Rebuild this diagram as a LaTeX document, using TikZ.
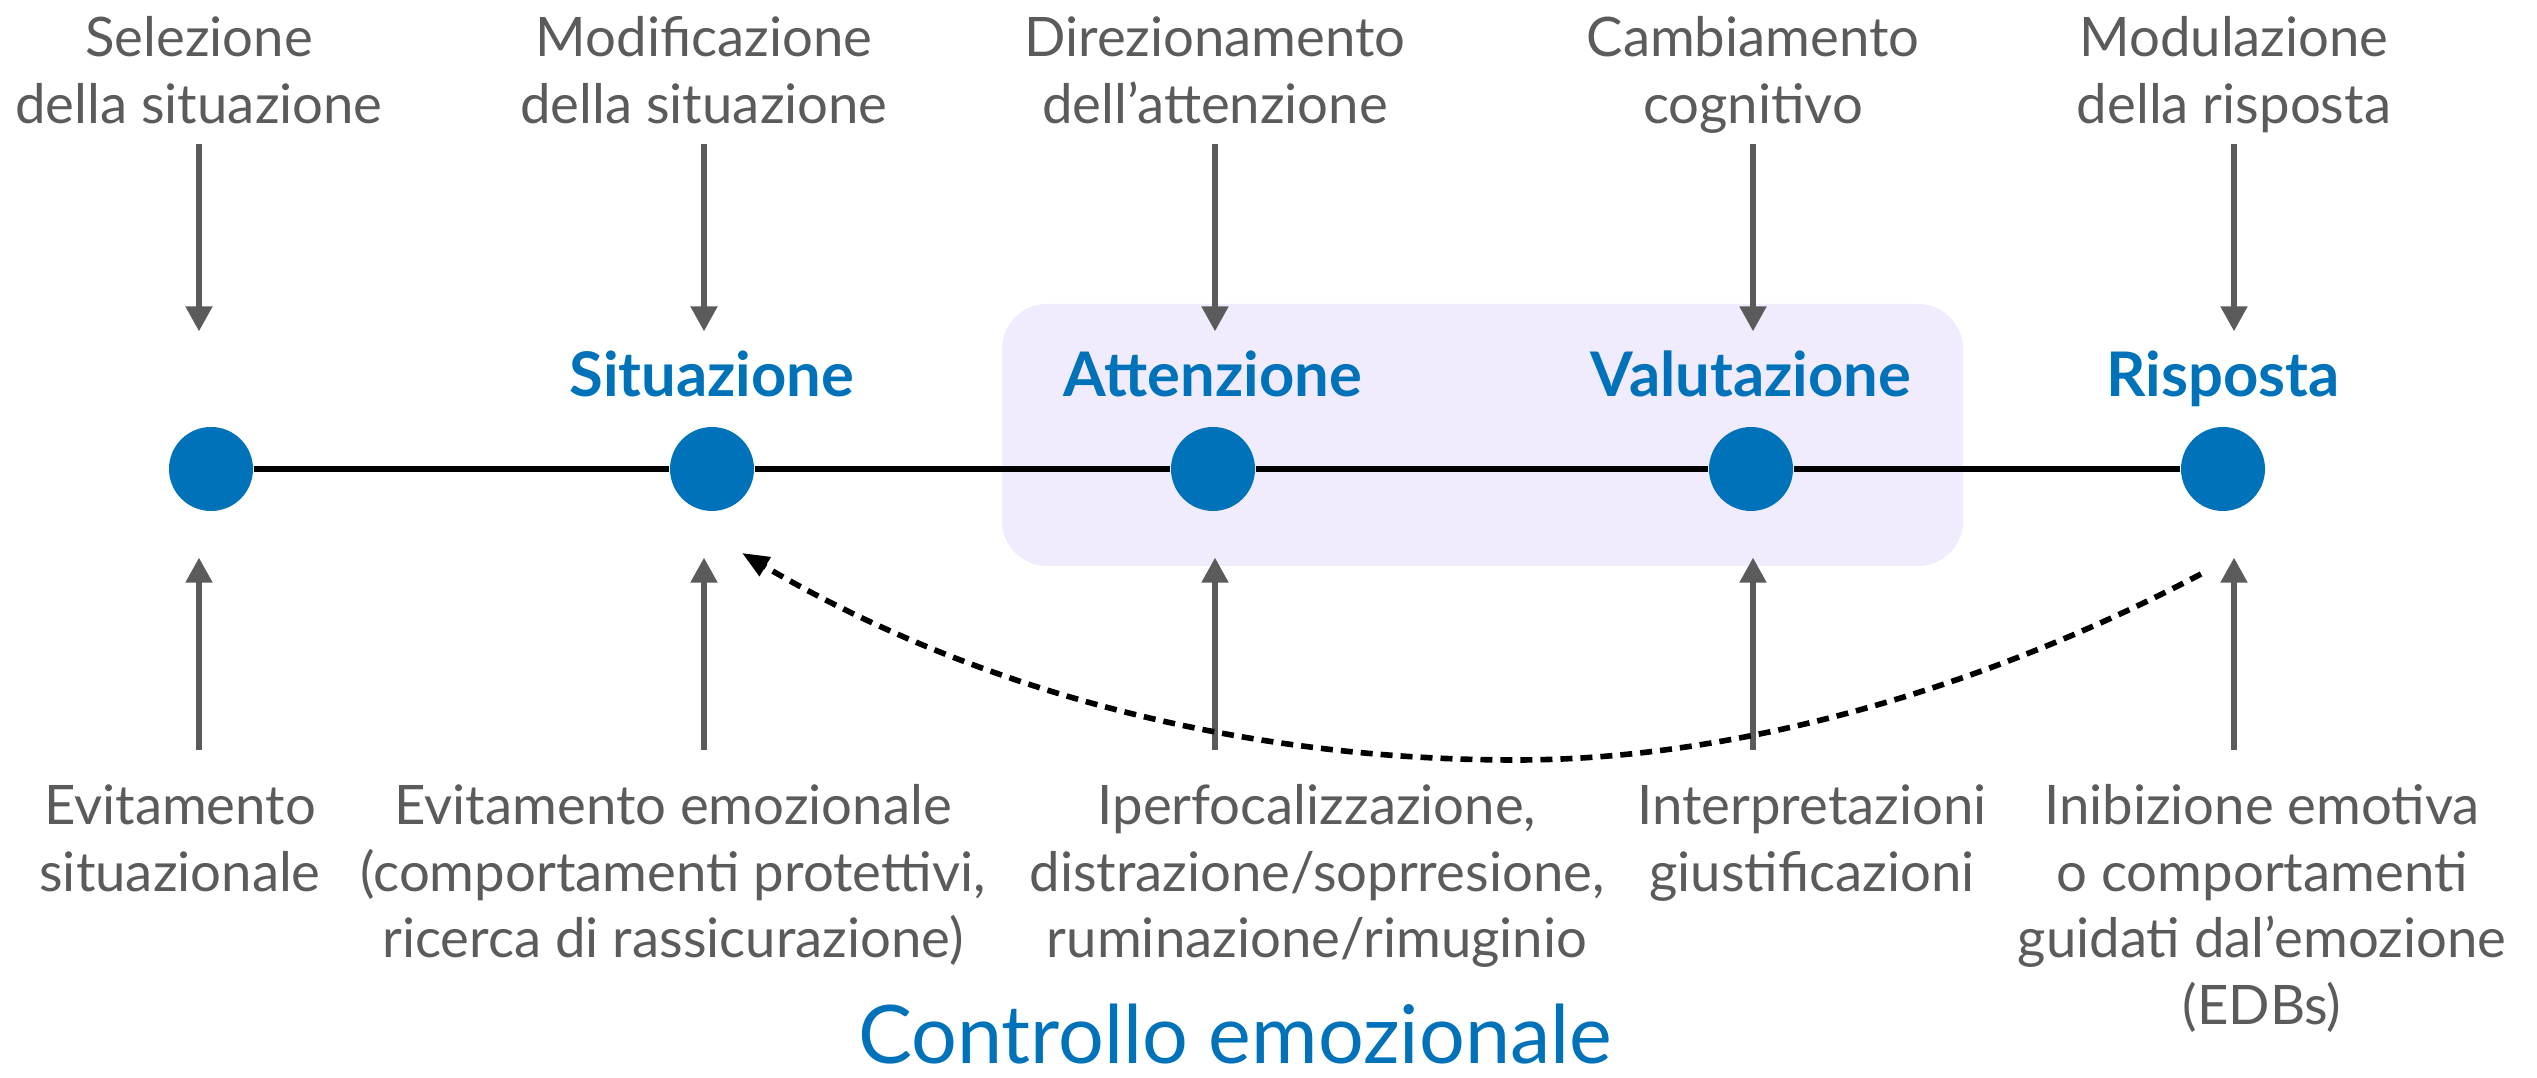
\documentclass[tikz,border=0pt]{standalone}
\usepackage{fontspec}
\setmainfont{Lato}
\usetikzlibrary{arrows.meta,positioning}
\definecolor{blue}{rgb}{0, 0.447, 0.729}
\definecolor{grey}{rgb}{0.357, 0.357, 0.357}
\definecolor{lavender}{rgb}{0.941, 0.925, 0.992}

\tikzset{
    toplabel/.style={anchor=south,align=center,inner sep=0,text=grey,font=\fontsize{15.5}{19}\selectfont},
    botlabel/.style={anchor=north,align=center,inner sep=0,text=grey,font=\fontsize{15.5}{19}\selectfont},
    stage/.style={anchor=base,text=blue,inner sep=0,font=\bfseries\fontsize{17.5}{20}\selectfont},
    dot/.style={circle,draw=none,fill=blue,minimum size=0.84cm,inner sep=0},
    arr/.style={draw=grey,line width=1.5pt,-{Triangle[length=0.25cm,width=0.26cm]}}
}

\begin{document}
\begin{tikzpicture}
        \useasboundingbox (0,0) rectangle (25.37,-10.78);
        \draw[draw=none,fill=lavender,rounded corners=0.45cm] (10.02,-3.04) rectangle (19.63,-5.66);

        % timeline
        \foreach \i/\x in {1/2.11,2/7.12,3/12.13,4/17.51,5/22.23}{
            \node[dot] (d\i) at (\x,-4.69) {};
        }
        \foreach \i/\j in {1/2,2/3,3/4,4/5}{
            \draw[line width=1.5pt] (d\i) -- (d\j);
        }
        \foreach \i/\name in {2/Situazione,3/Attenzione,4/Valutazione,5/Risposta}{
            \node[stage] (s\i) at ([yshift=0.72cm]d\i.center) {\name};
        }

        % strategies
        \foreach \i/\x/\txt in {1/1.99/{Selezione\\della situazione},2/7.04/{Modificazione\\della situazione},3/12.15/{Direzionamento\\dell’attenzione},4/17.53/{Cambiamento\\cognitivo},5/22.34/{Modulazione\\della risposta}}{
            \node[toplabel] (t\i) at (\x,-1.44) {\txt\strut};
            \draw[arr,shorten >=0.95cm] (t\i.south) -- (t\i.south |- d\i.north);
        }

        % controls
        \foreach \i/\x/\txt in {1/1.80/{Evitamento\\situazionale},2/6.73/{Evitamento emozionale\\(comportamenti protettivi,\\ricerca di rassicurazione)},3/13.17/{Iperfocalizzazione,\\distrazione/soprresione,\\ruminazione/rimuginio},4/18.12/{Interpretazioni\\giustificazioni},5/22.62/{Inibizione emotiva\\o comportamenti\\guidati dal’emozione\\(EDBs)}}{
            \node[botlabel] (b\i) at (\x,-7.77) {\strut\txt};
            \draw[arr,shorten <=0.27cm,shorten >=0.46cm] (t\i.south |- b\i.north) -- (t\i.south |- d\i.south);
        }

        % feedback
        \coordinate (fb1) at ([shift={(-0.22,-1.05)}]d5.center);
        \coordinate (fb2) at ([shift={(0.30,-0.84)}]d2.center);
        \draw[line width=1.6pt,dash pattern=on 0.12cm off 0.08cm,-{Triangle[length=0.27cm,width=0.21cm]}] (fb1) .. controls (20.0,-6.8) and (17.5,-7.6) .. (15.16,-7.6) .. controls (12.0,-7.6) and (9.4,-6.7) .. (fb2);

        \node[anchor=base,text=blue,inner sep=0,font=\fontsize{23}{28}\selectfont] (title) at (12.35,-10.64) {Controllo emozionale};
    \end{tikzpicture}
\end{document}
